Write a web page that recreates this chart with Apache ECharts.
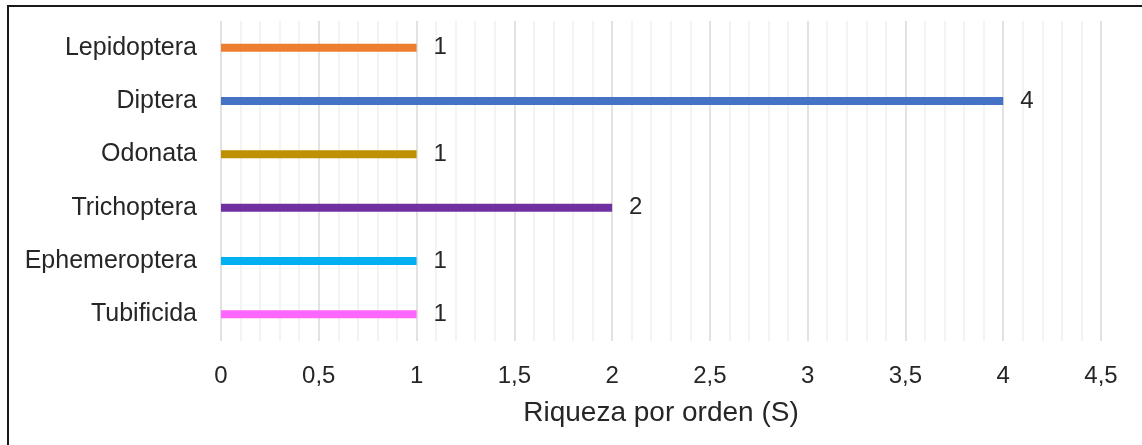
<!DOCTYPE html>
<html>
<head>
<meta charset="utf-8">
<script src="https://cdn.jsdelivr.net/npm/echarts@6/dist/echarts.min.js"></script>
<style>
  html, body { margin: 0; padding: 0; background: #fff; }
  #chart { width: 1142px; height: 445px; }
</style>
</head>
<body>
<div id="chart"></div>
<script>
// orders, top to bottom
const orders = ["Lepidoptera", "Diptera", "Odonata", "Trichoptera", "Ephemeroptera", "Tubificida"];
const richness = [1, 4, 1, 2, 1, 1];
const barColors = ["#ED7D31", "#4472C4", "#BF9000", "#7030A0", "#00B0F0", "#FF66FF"];
const xTicks = [0, 0.5, 1, 1.5, 2, 2.5, 3, 3.5, 4, 4.5];

const chart = echarts.init(document.getElementById("chart"));
const font = "'Liberation Sans', Arial, sans-serif";

chart.setOption({
  animation: false,
  grid: { left: 221, right: 41, top: 21, bottom: 104 },
  graphic: [
    {
      type: "rect",
      shape: { x: 8, y: 6, width: 1200, height: 500 },
      style: { fill: "none", stroke: "#1a1a1a", lineWidth: 2 },
      z: 100,
    },
  ],
  xAxis: {
    type: "value",
    min: xTicks[0],
    max: xTicks[xTicks.length - 1],
    interval: 0.5,
    name: "Riqueza por orden (S)",
    nameLocation: "middle",
    nameGap: 58,
    nameTextStyle: { fontFamily: font, fontSize: 28, color: "#262626" },
    axisLine: { show: false },
    axisTick: { show: false },
    axisLabel: {
      margin: 23,
      fontFamily: font,
      fontSize: 24,
      color: "#262626",
      formatter: (v) => String(v).replace(".", ","),
    },
    splitLine: { show: true, lineStyle: { color: "#d9d9d9", width: 1.5 } },
    minorTick: { show: false, splitNumber: 5 },
    minorSplitLine: { show: true, lineStyle: { color: "#efefef", width: 1.5 } },
  },
  yAxis: {
    type: "category",
    data: orders,
    inverse: true,
    axisLine: { show: false },
    axisTick: { show: false },
    axisLabel: { margin: 24, fontFamily: font, fontSize: 25, color: "#262626" },
  },
  series: [
    {
      type: "bar",
      barWidth: 8,
      data: richness.map((v, i) => ({ value: v, itemStyle: { color: barColors[i] } })),
      label: {
        show: true,
        position: "right",
        distance: 17,
        fontFamily: font,
        fontSize: 24,
        color: "#262626",
      },
    },
  ],
});
</script>
</body>
</html>
